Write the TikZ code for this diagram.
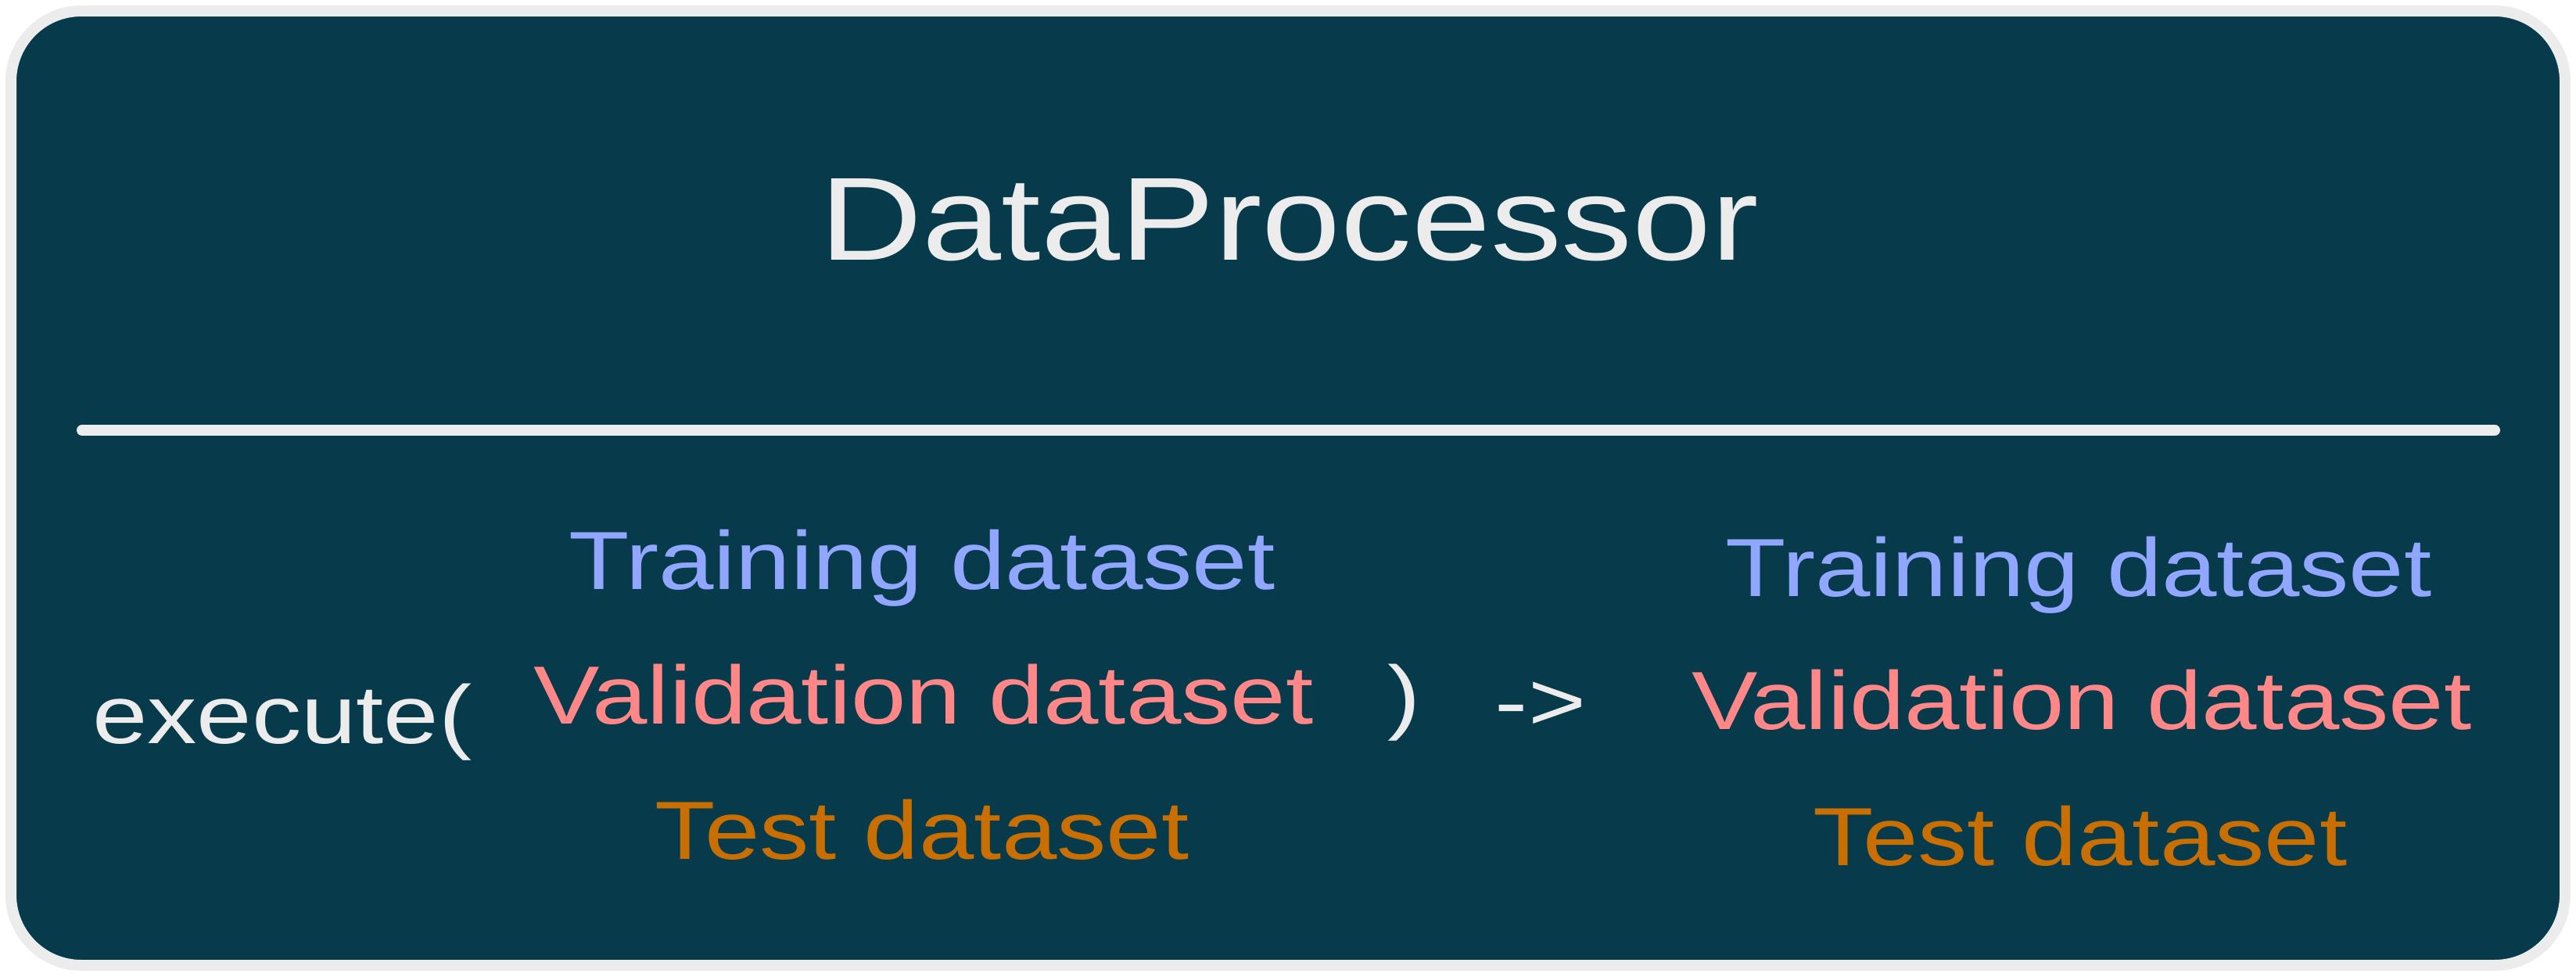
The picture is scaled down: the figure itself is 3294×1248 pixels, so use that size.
\documentclass[tikz,border=0pt]{standalone}
\usepackage{fontspec}
\setmainfont{Liberation Sans}
\newfontfamily\hand[FakeStretch=1.2]{Liberation Sans}
\definecolor{bgteal}{HTML}{073B4C}
\definecolor{edgegray}{HTML}{ECECEC}
\definecolor{fgwhite}{HTML}{ECECEC}
\definecolor{trainblue}{HTML}{91A7FF}
\definecolor{valred}{HTML}{FF8787}
\definecolor{testorange}{HTML}{C96E00}
\tikzset{
  txt/.style={inner sep=0pt, outer sep=0pt, font=\hand\fontsize{30}{36}\selectfont},
  titletxt/.style={inner sep=0pt, outer sep=0pt, font=\hand\fontsize{43}{50}\selectfont, text=fgwhite},
  train/.style={txt, text=trainblue, anchor=base},
  val/.style={txt, text=valred, anchor=base},
  testds/.style={txt, text=testorange, anchor=base},
  plain/.style={txt, text=fgwhite},
  divider/.style={line width=0.14cm, line cap=round, draw=fgwhite}
}
\begin{document}
\begin{tikzpicture}[x=0.01cm,y=-0.01cm]
\useasboundingbox (0,0) rectangle (3294,1248);
\fill[white] (0,0) rectangle (3294,1248);
% outer card
\draw[line width=0.14cm, draw=edgegray, fill=bgteal, rounded corners=0.9cm] (14,14) rectangle (3280,1234);
% title
\node[titletxt, anchor=base] (title) at (1649,332) {DataProcessor};
% divider
\coordinate (divL) at (105,550);
\coordinate (divR) at (3190,550);
\draw[divider] (divL) -- (divR);
% call
\node[plain, anchor=base west] (exec) at (118,950) {execute(};
\node[train] (trainL) at (1179,753) {Training dataset};
\node[val] (valL) at (1181,925) {Validation dataset};
\node[testds] (testL) at (1179,1098) {Test dataset};
\node[plain, anchor=center] (close) at (1796,898) {)};
\node[plain, anchor=center] (arrow) at (1970,903) {->};
\node[train] (trainR) at (2658,762) {Training dataset};
\node[val] (valR) at (2662,932) {Validation dataset};
\node[testds] (testR) at (2660,1106) {Test dataset};
\end{tikzpicture}
\end{document}
